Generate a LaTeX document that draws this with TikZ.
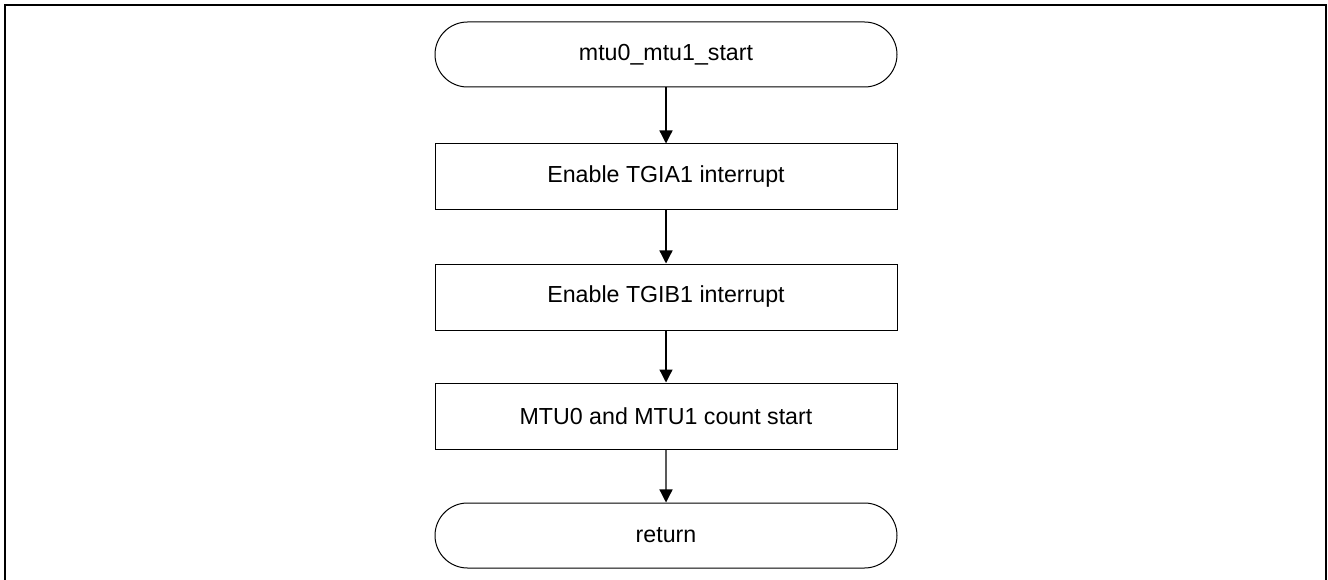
\documentclass[tikz,border=0pt]{standalone}
\usepackage{fontspec}
\setmainfont{Liberation Sans}
\usetikzlibrary{arrows.meta,shapes.misc}
\begin{document}
\begin{tikzpicture}[x=1pt,y=-1pt,
  every node/.style={font=\fontsize{23.2}{28}\selectfont},
  term/.style={draw,line width=1pt,rounded rectangle,minimum width=462pt,minimum height=65pt,inner sep=0pt},
  procbox/.style={draw,line width=1pt,rectangle,minimum width=462pt,minimum height=66pt,inner sep=0pt},
  flow/.style={line width=1.3pt,-{Triangle[length=13pt,width=13pt]}}]
\useasboundingbox (0,0) rectangle (1328,580);
\draw[line width=2pt] (5,600) -- (5,5) -- (1326,5) -- (1326,600);
\node[term] (s) at (666,54.5) {mtu0\_mtu1\_start};
\node[procbox] (a) at (666,177) {Enable TGIA1 interrupt};
\node[procbox] (b) at (666,297) {Enable TGIB1 interrupt};
\node[procbox] (c) at (666,416) {MTU0 and MTU1 count start};
\node[term] (r) at (666,535.5) {return};
\draw[flow] (s) -- (a);
\draw[flow] (a) -- (b);
\draw[flow] (b) -- (c);
\draw[flow] (c) -- (r);
\end{tikzpicture}
\end{document}
